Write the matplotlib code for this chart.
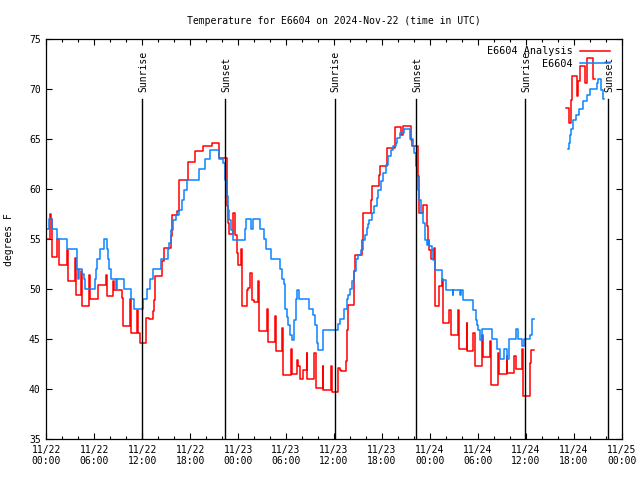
import numpy as np
import matplotlib
matplotlib.use("Agg")
import matplotlib.pyplot as plt
from matplotlib.ticker import MultipleLocator

plt.rcParams["font.family"] = ["DejaVu Sans Mono"]
plt.rcParams["font.size"] = 7

# hours since 2024-11-22 00:00 UTC, degrees F (nan = gap in data)
obs_hours = [0.13, 0.30, 0.71, 1.30, 2.55, 3.80, 4.00, 4.13, 4.47, 4.72, 4.88, 6.06, 6.18, 6.35,
             6.72, 7.22, 7.63, 7.76, 7.89, 8.06, 8.69, 8.81, 9.72, 10.64, 11.01, 12.14, 12.64,
             12.98, 13.39, 14.32, 15.19, 15.39, 15.61, 15.89, 16.23, 16.65, 16.95, 17.27, 17.65,
             19.15, 19.86, 20.49, 21.61, 22.15, 22.37, 22.65, 22.78, 22.90, 23.08, 23.33, 24.87,
             25.00, 25.62, 25.87, 26.75, 27.25, 27.50, 28.08, 29.25, 29.46, 29.75, 29.87, 30.09,
             30.29, 30.50, 30.71, 31.04, 31.25, 31.34, 31.66, 32.92, 33.42, 33.63, 33.84, 33.97,
             34.59, 34.67, 36.55, 36.76, 37.26, 37.60, 37.80, 38.01, 38.22, 38.51, 38.76, 39.05,
             39.35, 39.60, 39.89, 40.10, 40.26, 40.43, 40.73, 41.01, 41.35, 41.55, 41.85, 42.18,
             42.52, 42.80, 43.10, 43.43, 43.73, 43.93, 44.27, 44.77, 45.52, 45.86, 46.02, 46.27,
             46.43, 46.56, 46.68, 46.90, 47.15, 47.36, 47.61, 47.81, 47.90, 48.23, 48.44, 48.65,
             49.56, 50.03, 50.86, 50.94, 51.78, 51.86, 52.19, 53.37, 53.74, 53.87, 54.07, 54.28,
             54.57, 55.74, 56.45, 56.78, 57.32, 57.62, 57.91, 58.79, 59.07, 59.50, 59.79, 60.54,
             60.75, 61.04, 61.05,
             65.26, 65.42, 65.55, 65.67, 65.96, 66.30, 66.71, 67.21, 67.63, 68.05, 68.89, 69.09,
             69.46, 69.67, 69.76]
obs_temp = [56.0, 57.0, 56.0, 55.0, 54.0, 52.0, 51.0, 52.0, 51.5, 51.0, 50.0, 51.0, 52.0, 53.0,
            54.0, 55.0, 54.0, 53.0, 52.0, 51.0, 50.0, 51.0, 50.0, 49.0, 48.0, 49.0, 50.0,
            51.0, 52.0, 53.0, 54.0, 54.6, 55.9, 56.9, 57.4, 57.9, 58.9, 59.9, 60.9,
            62.0, 63.0, 63.9, 63.0, 62.6, 60.9, 59.3, 57.9, 56.9, 55.9, 54.9, 56.0,
            57.0, 56.0, 57.0, 56.0, 55.0, 54.0, 53.0, 52.0, 51.0, 50.5, 48.0, 47.2,
            46.4, 45.4, 44.9, 46.9, 49.0, 49.9, 49.0, 48.0, 47.4, 46.4, 44.6, 43.9,
            45.4, 45.9, 46.5, 47.0, 48.0, 49.0, 49.4, 50.0, 50.8, 51.8, 53.0, 53.4,
            53.9, 54.9, 55.4, 56.1, 56.5, 56.9, 57.6, 58.3, 59.1, 59.9, 60.8, 61.6,
            62.4, 63.3, 63.9, 64.3, 64.6, 65.1, 65.6, 66.0, 65.0, 64.3, 63.6, 62.3,
            61.3, 59.9, 58.9, 57.6, 56.6, 54.9, 54.4, 54.9, 54.3, 53.9, 52.9, 51.9,
            50.9, 49.9, 49.4, 49.9, 49.4, 49.9, 48.9, 47.9, 46.9, 46.4, 45.9, 44.9,
            46.0, 45.0, 44.0, 43.0, 44.0, 43.0, 45.0, 46.0, 45.0, 44.3, 45.0, 45.4,
            47.0, 47.0, np.nan,
            64.0, 64.6, 65.4, 66.0, 66.9, 67.4, 68.0, 68.8, 69.4, 70.0, 70.6, 71.0,
            69.9, 69.0, 69.0]

ana_hours = [0.13, 0.46, 0.53, 0.75, 1.38, 1.59, 2.55, 2.68, 3.55, 3.68, 4.38, 4.51, 5.34, 5.47,
             6.47, 7.47, 7.60, 8.35, 8.51, 9.47, 9.64, 10.48, 10.60, 11.39, 11.51, 11.73, 12.48,
             12.89, 13.32, 13.52, 13.64, 14.44, 14.73, 15.57, 15.73, 16.40, 16.65, 17.77, 18.61,
             19.65, 20.70, 21.65, 22.65, 22.78, 22.90, 23.37, 23.62, 23.83, 24.03, 24.41, 24.53,
             25.08, 25.28, 25.49, 25.71, 25.99, 26.53, 26.66, 27.58, 27.71, 28.62, 28.71, 29.54,
             29.66, 30.59, 30.71, 31.41, 31.54, 31.75, 32.17, 32.59, 32.67, 33.54, 33.75, 34.59,
             34.67, 35.67, 35.76, 36.55, 36.72, 36.88, 37.51, 37.60, 37.72, 38.51, 38.67, 39.47,
             39.60, 39.67, 40.68, 40.73, 41.68, 41.77, 42.68, 43.64, 44.39, 44.61, 45.61, 45.73,
             46.52, 46.68, 47.11, 47.68, 47.81, 47.94, 48.11, 48.56, 48.61, 48.69, 49.19, 49.49,
             49.61, 50.44, 50.65, 51.49, 51.69, 52.62, 52.69, 53.44, 53.65, 54.49, 54.62, 55.53,
             55.66, 56.53, 56.70, 57.62, 57.70, 58.54, 58.75, 59.57, 59.70, 60.54, 60.70, 61.04,
             61.05,
             65.06, 65.47, 65.65, 65.76, 66.46, 66.55, 66.78, 67.41, 67.63, 68.46, 68.66]
ana_temp = [55.0, 57.5, 57.0, 53.2, 55.0, 52.4, 53.9, 50.8, 53.1, 49.4, 51.8, 48.3, 51.4, 49.0,
            50.4, 51.4, 49.3, 50.8, 49.9, 49.1, 46.3, 49.0, 45.6, 47.9, 45.6, 44.6, 47.1,
            47.0, 47.8, 48.9, 51.3, 52.8, 54.1, 55.3, 57.4, 57.8, 60.9, 62.7, 63.8,
            64.3, 64.6, 63.1, 58.3, 56.6, 55.5, 57.6, 55.4, 53.6, 52.4, 54.0, 48.3,
            49.9, 50.1, 51.6, 48.9, 48.7, 50.8, 45.8, 48.0, 44.7, 47.3, 43.8, 46.1,
            41.4, 44.0, 41.5, 42.9, 42.3, 41.0, 41.9, 43.6, 41.0, 43.6, 40.1, 42.3,
            39.9, 42.3, 39.7, 42.1, 41.9, 41.8, 42.8, 45.9, 48.4, 51.8, 53.4, 54.9,
            55.8, 57.6, 58.9, 60.3, 61.4, 62.3, 64.1, 66.2, 65.4, 66.3, 64.9, 64.3,
            61.3, 57.6, 58.4, 56.3, 54.9, 53.9, 53.0, 54.1, 51.3, 48.3, 50.3, 51.0,
            46.6, 47.9, 45.4, 47.9, 44.0, 46.6, 43.8, 45.6, 42.3, 45.4, 43.2, 44.8,
            40.4, 43.6, 41.5, 43.3, 41.6, 43.3, 42.0, 44.0, 39.3, 42.6, 43.9, 43.9,
            np.nan,
            68.1, 66.6, 68.9, 71.3, 69.3, 70.8, 72.3, 70.6, 73.1, 71.0, 71.0]

sunrise_hours = [12.0, 36.07, 59.95]
sunset_hours = [22.4, 46.31, 70.34]

tick_hours = list(range(0, 73, 6))
tick_labels = ["11/22\n00:00", "11/22\n06:00", "11/22\n12:00", "11/22\n18:00",
               "11/23\n00:00", "11/23\n06:00", "11/23\n12:00", "11/23\n18:00",
               "11/24\n00:00", "11/24\n06:00", "11/24\n12:00", "11/24\n18:00",
               "11/25\n00:00"]

fig = plt.figure(figsize=(6.4, 4.8), dpi=100)
ax = fig.add_axes([0.0723, 0.0848, 0.899, 0.8333])

ax.plot(ana_hours, ana_temp, drawstyle="steps-post", color="#ff0000", lw=1.1,
        label="E6604 Analysis")
ax.plot(obs_hours, obs_temp, drawstyle="steps-post", color="#0a84ff", lw=1.1,
        label="E6604")

for h in sunrise_hours:
    ax.plot([h, h], [35, 69.05], color="black", lw=1.0)
    ax.text(h + 0.1, 69.7, "Sunrise", rotation=90, ha="center", va="bottom")
for h in sunset_hours:
    ax.plot([h, h], [35, 69.05], color="black", lw=1.0)
    ax.text(h + 0.1, 69.7, "Sunset", rotation=90, ha="center", va="bottom")

ax.set_xlim(0, 72)
ax.set_ylim(35, 75)
ax.set_xticks(tick_hours)
ax.set_xticklabels(tick_labels)
ax.xaxis.set_minor_locator(MultipleLocator(2))
ax.set_yticks(range(35, 76, 5))
ax.tick_params(which="both", direction="in", top=True, right=True, width=0.8)
ax.tick_params(which="major", length=4, pad=4)
ax.tick_params(which="minor", length=2.2)
for s in ax.spines.values():
    s.set_linewidth(0.9)

ax.set_title("Temperature for E6604 on 2024-Nov-22 (time in UTC)", fontsize=7, pad=11)
ax.set_ylabel("degrees F")
ax.yaxis.set_label_coords(-0.056, 0.5)

ax.legend(loc="upper right", bbox_to_anchor=(0.979, 0.983), frameon=False,
          markerfirst=False, handlelength=2.9, handletextpad=0.7,
          borderpad=0, borderaxespad=0, labelspacing=0.25, fontsize=7.3)

plt.savefig("out.png", dpi=100)
